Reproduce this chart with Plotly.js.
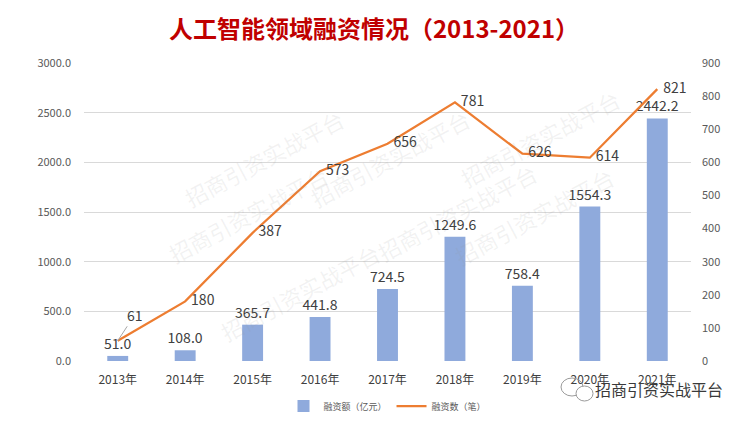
<!DOCTYPE html>
<html>
<head>
<meta charset="utf-8">
<script src="https://cdn.plot.ly/plotly-3.0.1.min.js"></script>
<style>
html,body{margin:0;padding:0;background:#fff;}
#chart{width:748px;height:421px;}
</style>
</head>
<body>
<div id="chart"></div>
<script>
// ---- data ----
const years = ['2013年','2014年','2015年','2016年','2017年','2018年','2019年','2020年','2021年'];
const amounts = [51.0, 108.0, 365.7, 441.8, 724.5, 1249.6, 758.4, 1554.3, 2442.2];
const counts = [61, 180, 387, 573, 656, 781, 626, 614, 821];
const leftTicks = [0, 500, 1000, 1500, 2000, 2500, 3000];
const rightTicks = [0, 100, 200, 300, 400, 500, 600, 700, 800, 900];
const barName = '融资额（亿元）';
const lineName = '融资数（笔）';
const titleText = '人工智能领域融资情况（2013-2021）';
const watermark = '招商引资实战平台';

// ---- layout helpers (pixel -> paper) ----
const L = 84, R = 691, T = 63, B = 361;
const px = x => (x - L) / (R - L);
const py = y => (B - y) / (B - T);

const FONT = '"Noto Sans CJK SC", "Noto Sans", sans-serif';
const PAD = '\u00a0\u2009';

const barTrace = {
  type: 'bar', name: barName, x: years, y: amounts,
  marker: {color: '#8FAADC'},
  text: amounts.map(v => v.toFixed(1)), textposition: 'outside', constraintext: 'none',
  textfont: {size: 14, color: '#404040', family: FONT},
  cliponaxis: false, hoverinfo: 'x+y'
};
const lineTrace = {
  type: 'scatter', mode: 'lines+text', name: lineName, x: years, y: counts, yaxis: 'y2',
  line: {color: '#ED7D31', width: 2.25},
  text: counts.map((v, i) => i === 0 ? '' : PAD + String(v)), textposition: 'middle right',
  textfont: {size: 14, color: '#404040', family: FONT},
  cliponaxis: false
};

const wmPos = [[176,100],[390,100],[628,80],[160,272],[457,212],[622,274],[300,350]];
const annotations = wmPos.map(p => ({
  xref: 'paper', yref: 'paper', x: px(p[0]), y: py(p[1]), text: watermark, showarrow: false,
  textangle: -28, font: {size: 22, color: 'rgba(150,150,150,0.12)', family: FONT}
}));
annotations.push({
  x: years[0], y: counts[0], xref: 'x', yref: 'y2', text: String(counts[0]),
  showarrow: true, arrowhead: 0, arrowwidth: 1, arrowcolor: '#A6A6A6', ax: 17, ay: -26, standoff: 0,
  font: {size: 14, color: '#404040', family: FONT}
});
annotations.push({
  xref: 'paper', yref: 'paper', x: px(593), y: py(389), xanchor: 'left', yanchor: 'middle',
  text: watermark, showarrow: false, font: {size: 16, color: '#3A3A3A', family: FONT}
});

const layout = {
  width: 748, height: 421,
  margin: {l: L, r: 748 - R, t: T, b: 421 - B, autoexpand: false},
  paper_bgcolor: '#ffffff', plot_bgcolor: '#ffffff',
  title: {text: '<b>' + titleText + '</b>', x: 0.5, xanchor: 'center', y: 1 - 30/421, yanchor: 'middle',
          font: {size: 24, color: '#C00000', family: FONT}},
  bargap: 0.69,
  showlegend: true,
  legend: {orientation: 'h', x: 0.5, xanchor: 'center', y: py(406), yanchor: 'middle',
           font: {size: 9, color: '#595959', family: FONT}, itemwidth: 30, traceorder: 'normal'},
  xaxis: {type: 'category', showgrid: false, showline: false, ticks: '', zeroline: false,
          ticklabelstandoff: 10,
          tickfont: {size: 12, color: '#404040', family: FONT}},
  yaxis: {range: [0, 3000], tickvals: leftTicks, ticktext: leftTicks.map(v => v.toFixed(1)),
          showgrid: true, gridcolor: '#D9D9D9', gridwidth: 1, zeroline: false, showline: false,
          ticklabelstandoff: 12,
          tickfont: {size: 11, color: '#595959', family: FONT}, ticks: '', ticklen: 0},
  yaxis2: {range: [0, 900], tickvals: rightTicks, overlaying: 'y', side: 'right', showgrid: false,
           zeroline: false, showline: false, ticklabelstandoff: 10,
           tickfont: {size: 11, color: '#595959', family: FONT}},
  annotations: annotations,
  shapes: [
    {type: 'circle', xref: 'paper', yref: 'paper', x0: px(561), x1: px(583), y0: py(396), y1: py(378),
     line: {color: '#9A9A9A', width: 1}, fillcolor: 'rgba(0,0,0,0)'},
    {type: 'circle', xref: 'paper', yref: 'paper', x0: px(576), x1: px(593), y0: py(401), y1: py(386),
     line: {color: '#9A9A9A', width: 1}, fillcolor: '#ffffff'}
  ]
};

Plotly.newPlot('chart', [barTrace, lineTrace], layout, {displayModeBar: false, staticPlot: true});
</script>
</body>
</html>
